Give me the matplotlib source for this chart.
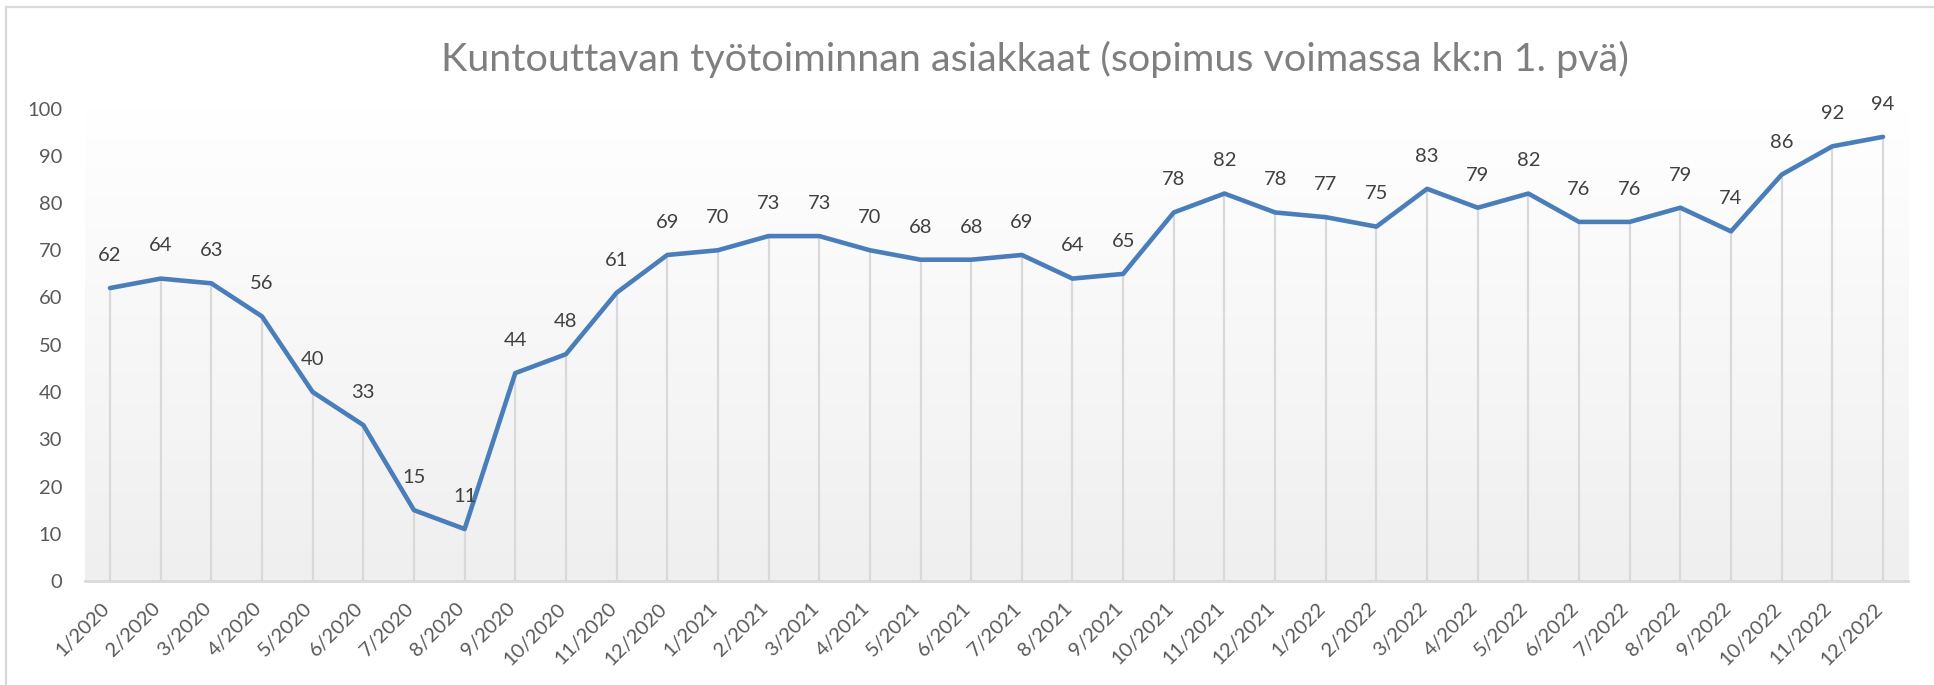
import numpy as np
import matplotlib
matplotlib.use("Agg")
import matplotlib.pyplot as plt
import matplotlib.transforms as mtransforms
from matplotlib.lines import Line2D

# ---- data ----
months = ["1/2020", "2/2020", "3/2020", "4/2020", "5/2020", "6/2020", "7/2020", "8/2020",
          "9/2020", "10/2020", "11/2020", "12/2020",
          "1/2021", "2/2021", "3/2021", "4/2021", "5/2021", "6/2021", "7/2021", "8/2021",
          "9/2021", "10/2021", "11/2021", "12/2021",
          "1/2022", "2/2022", "3/2022", "4/2022", "5/2022", "6/2022", "7/2022", "8/2022",
          "9/2022", "10/2022", "11/2022", "12/2022"]
clients = [62, 64, 63, 56, 40, 33, 15, 11, 44, 48, 61, 69,
           70, 73, 73, 70, 68, 68, 69, 64, 65, 78, 82, 78,
           77, 75, 83, 79, 82, 76, 76, 79, 74, 86, 92, 94]
yticks = [0, 10, 20, 30, 40, 50, 60, 70, 80, 90, 100]
title = "Kuntouttavan työtoiminnan asiakkaat (sopimus voimassa kk:n 1. pvä)"

plt.rcParams['font.family'] = ['Lato', 'DejaVu Sans']

W, H = 1934, 685
dpi = 100
fig = plt.figure(figsize=(W / dpi, H / dpi), dpi=dpi)
fig.patch.set_facecolor("white")

# axes placement in pixels
left_px, right_px = 84.7, 1908.3
bottom_px, top_px = 581.0, 108.5
ax = fig.add_axes([left_px / W, (H - bottom_px) / H,
                   (right_px - left_px) / W, (bottom_px - top_px) / H])

x = np.arange(len(months))
ax.set_xlim(-0.5, len(months) - 0.5)
ax.set_ylim(0, 100)

# gradient back wall
grad = np.linspace(0, 1, 256).reshape(-1, 1)
top_c = np.array([1.0, 1.0, 1.0])
bot_c = np.array([0xef, 0xef, 0xef]) / 255.0
img = bot_c[None, None, :] * (1 - grad[..., None]) + top_c[None, None, :] * grad[..., None]
ax.imshow(img, extent=[-0.5, len(months) - 0.5, 0, 100], origin="lower",
          aspect="auto", zorder=0, interpolation="bilinear")

# drop lines
ax.vlines(x, 0, clients, color="#d9d9d9", lw=1.6, zorder=1)

# main line
ax.plot(x, clients, color="#4a7ebb", lw=3.3, solid_joinstyle="round",
        solid_capstyle="round", zorder=3)

# data labels
for xi, v in zip(x, clients):
    ax.annotate(str(v), (xi, v), xytext=(0, 23.5), textcoords="offset points",
                ha="center", va="center", fontsize=14.5, color="#404040", zorder=4)

# spines
for s in ["top", "right", "left"]:
    ax.spines[s].set_visible(False)
ax.spines["bottom"].set_color("#d9d9d9")
ax.spines["bottom"].set_linewidth(2)
ax.set_facecolor("none")

ax.set_yticks(yticks)
ax.set_yticklabels([str(t) for t in yticks])
ax.tick_params(axis="y", length=0, pad=16.3, labelsize=14.5, labelcolor="#595959")

ax.set_xticks(x)
ax.set_xticklabels(months, rotation=45, ha="right", va="top", rotation_mode="default")
ax.tick_params(axis="x", length=0, pad=13.5, labelsize=14.5, labelcolor="#595959")
offset = mtransforms.ScaledTranslation(3 / dpi, 0, fig.dpi_scale_trans)
for lab in ax.get_xticklabels():
    lab.set_transform(lab.get_transform() + offset)

# chart border (top and left)
fig.add_artist(Line2D([6 / W, 1.0], [(H - 7) / H, (H - 7) / H], color="#d9d9d9", lw=1.6))
fig.add_artist(Line2D([6 / W, 6 / W], [0, (H - 7) / H], color="#d9d9d9", lw=1.6))

# title, fitted to target width
t = fig.text(1034.5 / W, (H - 71) / H, title, ha="center", va="baseline",
             fontsize=28, color="#7f7f7f")
fig.canvas.draw()
r = fig.canvas.get_renderer()
wpx = t.get_window_extent(r).width
t.set_fontsize(28 * 1187 / wpx)

fig.savefig("out.png", dpi=dpi, facecolor="white")
